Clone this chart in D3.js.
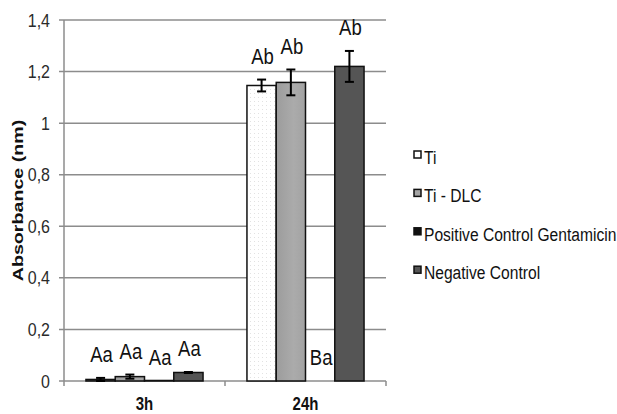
<!DOCTYPE html>
<html>
<head>
<meta charset="utf-8">
<script src="https://cdn.jsdelivr.net/npm/d3@7"></script>
<style>
  html, body { margin: 0; padding: 0; background: #fff; }
  svg { display: block; font-family: "Liberation Sans", Arial, sans-serif; }
</style>
</head>
<body>
<svg id="chart" width="617" height="414"></svg>
<script>
// data
const times = ["3h", "24h"];
const series = ["Ti", "Ti - DLC", "Positive Control Gentamicin", "Negative Control"];
const means3h = [0.006, 0.017, 0.002, 0.033];
const means24h = [1.146, 1.158, 0, 1.22];
const err3h = [0.006, 0.008, 0, 0.002];
const err24h = [0.023, 0.05, 0, 0.06];
const letters3h = ["Aa", "Aa", "Aa", "Aa"];
const letters24h = ["Ab", "Ab", "Ba", "Ab"];
const yTicks = [0, 0.2, 0.4, 0.6, 0.8, 1, 1.2, 1.4];

const rows = times.map((t, i) => ({
  time: t,
  values: series.map((s, j) => ({
    series: s,
    mean: (i === 0 ? means3h : means24h)[j],
    err: (i === 0 ? err3h : err24h)[j],
    letter: (i === 0 ? letters3h : letters24h)[j]
  }))
}));

const svg = d3.select("#chart");
const plotL = 64, plotR = 386, plotT = 20, plotB = 381;
const SY = 1.18; // the source picture is stretched vertically
const fmt = v => String(v).replace(".", ",");

const x0 = d3.scaleBand().domain(times).range([plotL, plotR]).padding(0);
const x1 = d3.scaleBand().domain(series).range([0, x0.bandwidth()]).paddingInner(0).paddingOuter(0.75);
const y = d3.scaleLinear().domain([0, 1.4]).range([plotB, plotT]);

const fills = {
  "Ti": "url(#dots)",
  "Ti - DLC": "url(#dlc)",
  "Positive Control Gentamicin": "#111",
  "Negative Control": "#555"
};

const defs = svg.append("defs");
const pat = defs.append("pattern").attr("id", "dots")
  .attr("width", 4).attr("height", 4).attr("patternUnits", "userSpaceOnUse");
pat.append("rect").attr("width", 4).attr("height", 4).attr("fill", "#fff");
pat.append("rect").attr("x", 1).attr("y", 1).attr("width", 1).attr("height", 1).attr("fill", "#e2e2e2");
const grad = defs.append("linearGradient").attr("id", "dlc").attr("x1", 0).attr("x2", 1);
grad.append("stop").attr("offset", "0%").attr("stop-color", "#9c9c9c");
grad.append("stop").attr("offset", "60%").attr("stop-color", "#ababab");
grad.append("stop").attr("offset", "100%").attr("stop-color", "#a2a2a2");

// gridlines
svg.append("g").selectAll("line").data(yTicks.slice(1)).join("line")
  .attr("x1", plotL - 5).attr("x2", plotR)
  .attr("y1", d => y(d)).attr("y2", d => y(d))
  .attr("stroke", "#8c8c8c").attr("stroke-width", 1.5);

// axes
svg.append("line").attr("x1", plotL).attr("x2", plotL).attr("y1", plotT).attr("y2", plotB)
  .attr("stroke", "#8c8c8c").attr("stroke-width", 1.5);
svg.append("line").attr("x1", plotL - 5).attr("x2", plotR).attr("y1", plotB).attr("y2", plotB)
  .attr("stroke", "#8c8c8c").attr("stroke-width", 1.5);
svg.append("g").selectAll("line").data([plotL, x0("24h"), plotR]).join("line")
  .attr("x1", d => d).attr("x2", d => d).attr("y1", plotB).attr("y2", plotB + 5)
  .attr("stroke", "#8c8c8c").attr("stroke-width", 1.5);

// y tick labels
svg.append("g").selectAll("text").data(yTicks).join("text")
  .attr("transform", d => `translate(50,${y(d) + 6.6}) scale(1,${SY})`)
  .attr("text-anchor", "end").attr("font-size", 16).attr("fill", "#2a2a2a")
  .text(fmt);

// y title
svg.append("text")
  .attr("transform", `translate(18,${(plotT + plotB) / 2}) rotate(-90) scale(1.31,1)`)
  .attr("text-anchor", "middle").attr("dy", "0.36em")
  .attr("font-size", 15).attr("font-weight", "bold").attr("fill", "#111")
  .text("Absorbance (nm)");

// x labels
svg.append("g").selectAll("text").data(times).join("text")
  .attr("transform", d => `translate(${x0(d) + x0.bandwidth() / 2},410) scale(1,${SY})`)
  .attr("text-anchor", "middle").attr("font-size", 15).attr("font-weight", "bold").attr("fill", "#111")
  .text(d => d);

// bars
const groups = svg.append("g").selectAll("g").data(rows).join("g")
  .attr("transform", d => `translate(${x0(d.time)},0)`);

groups.selectAll("rect").data(d => d.values).join("rect")
  .attr("x", d => x1(d.series))
  .attr("width", x1.bandwidth())
  .attr("y", d => y(d.mean))
  .attr("height", d => plotB - y(d.mean))
  .attr("fill", d => fills[d.series])
  .attr("stroke", "#111").attr("stroke-width", 1.5);

// error bars
const eb = groups.selectAll("g.err").data(d => d.values.filter(v => v.err > 0)).join("g").attr("class", "err")
  .attr("stroke", "#000").attr("stroke-width", 2);
eb.append("line")
  .attr("x1", d => x1(d.series) + x1.bandwidth() / 2).attr("x2", d => x1(d.series) + x1.bandwidth() / 2)
  .attr("y1", d => y(d.mean - d.err)).attr("y2", d => y(d.mean + d.err));
eb.selectAll("line.cap").data(d => [d.mean - d.err, d.mean + d.err].map(v => ({ v, s: d.series }))).join("line")
  .attr("class", "cap")
  .attr("x1", d => x1(d.s) + x1.bandwidth() / 2 - 4.5).attr("x2", d => x1(d.s) + x1.bandwidth() / 2 + 4.5)
  .attr("y1", d => y(d.v)).attr("y2", d => y(d.v));

// significance letters
groups.selectAll("text").data(d => d.values).join("text")
  .attr("transform", d => `translate(${x1(d.series) + x1.bandwidth() / 2 + 1},${y(d.mean + d.err) - 23 + 7.4}) scale(1,${SY})`)
  .attr("text-anchor", "middle").attr("font-size", 18.5).attr("fill", "#111")
  .text(d => d.letter);

// legend
const lg = svg.append("g").selectAll("g").data(series).join("g")
  .attr("transform", (d, i) => `translate(414,${157.5 + i * 38.4})`);
lg.append("rect").attr("x", 0).attr("y", -6.5).attr("width", 7).attr("height", 7)
  .attr("fill", d => d === "Ti" ? "#fff" : d === "Ti - DLC" ? "#a5a5a5" : fills[d])
  .attr("stroke", "#111").attr("stroke-width", 1.5);
lg.append("text")
  .attr("transform", `translate(10,6.3) scale(1,${SY})`)
  .attr("font-size", 15.6).attr("fill", "#111")
  .text(d => d);
</script>
</body>
</html>
